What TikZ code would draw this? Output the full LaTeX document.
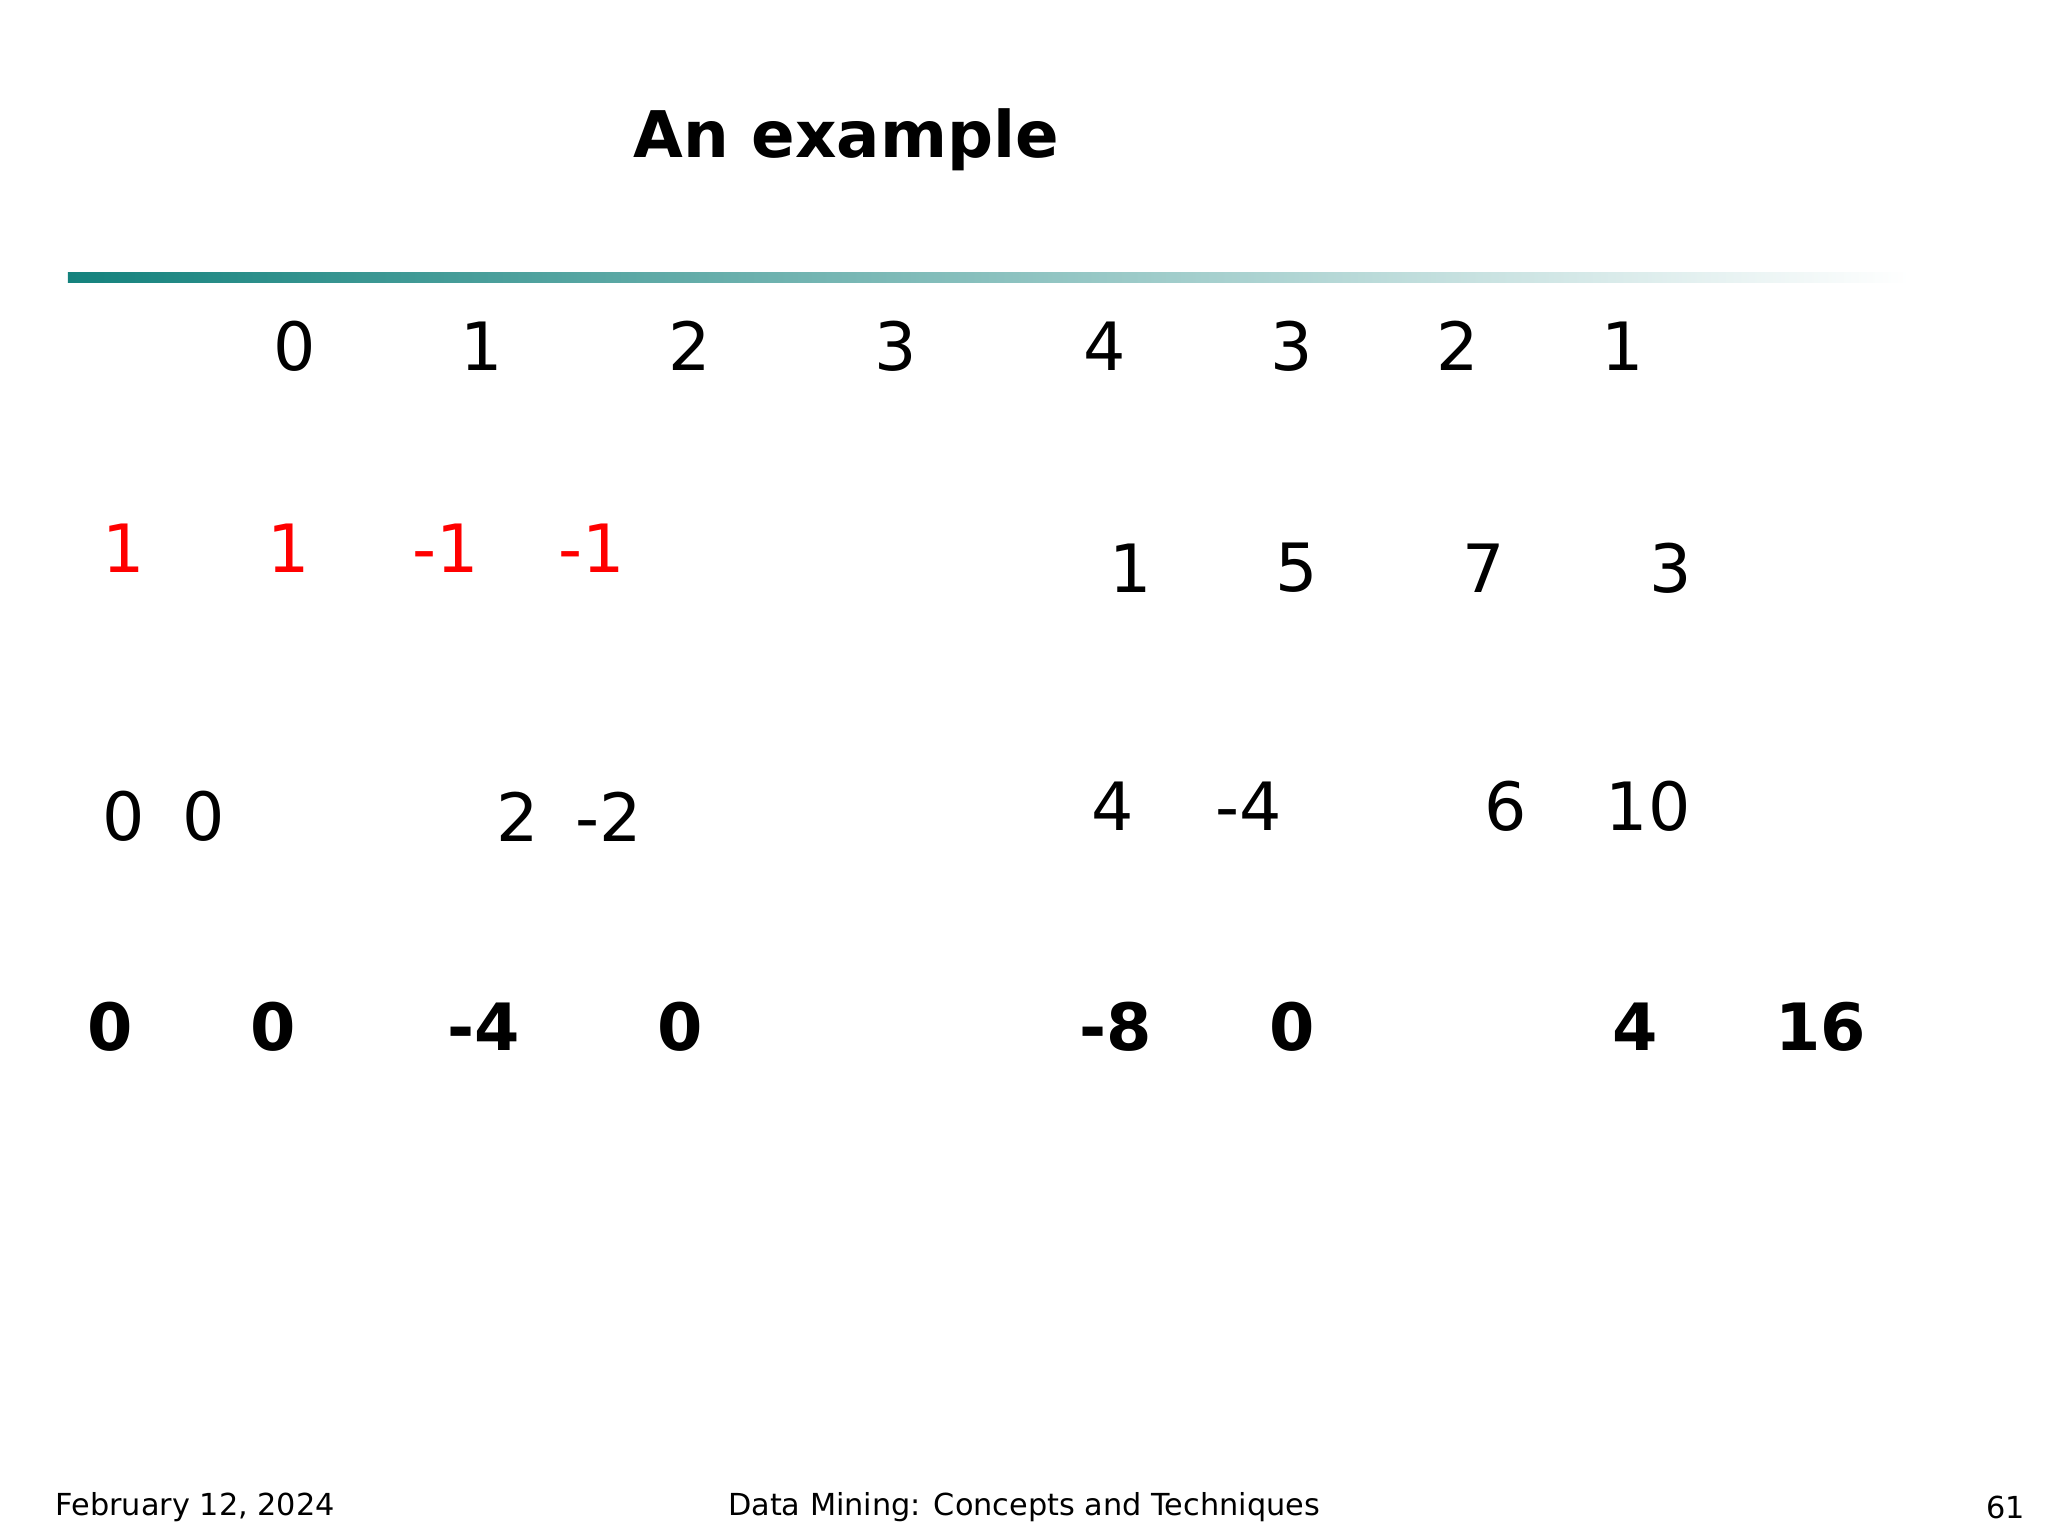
\documentclass[tikz,border=0pt]{standalone}
\usepackage{fontspec}
\setmainfont{DejaVu Sans}
\definecolor{tealc}{RGB}{20,130,125}
\begin{document}
\begin{tikzpicture}[x=0.01cm,y=-0.01cm,
  num/.style={font=\fontsize{14.5}{17}\selectfont,anchor=center},
  red/.style={num,text=red},
  bnum/.style={font=\fontsize{14.2}{17}\selectfont\bfseries,anchor=center},
  foot/.style={font=\fontsize{6.6}{8}\selectfont,inner sep=0pt}]
\useasboundingbox (0,0) rectangle (1568,1176);
\node[font=\fontsize{14}{17}\selectfont\bfseries] (title) at (648,107) {An example};
\shade[left color=tealc,right color=white] (52,209) rectangle (1462,216);
\foreach \v/\x [count=\i] in {0/226,1/369,2/528,3/686,4/846,3/989,2/1116,1/1242}
  \node[num] (a\i) at (\x,265) {\v};
\foreach \v/\x [count=\i] in {1/95,1/221,-1/341,-1/453}
  \node[red] (r\i) at (\x,420) {\v};
\foreach \v/\x [count=\i] in {1/866,5/993,7/1136,3/1279}
  \node[num] (b\i) at (\x,435) {\v};
\foreach \v/\x [count=\i] in {0/95,0/156,2/396,-2/466}
  \node[num] (c\i) at (\x,625) {\v};
\foreach \v/\x [count=\i] in {4/852,-4/956,6/1153,10/1262}
  \node[num] (d\i) at (\x,617) {\v};
\foreach \v/\x [count=\i] in {0/84,0/209,-4/370,0/521,-8/854,0/989,4/1252,16/1394}
  \node[bnum] (e\i) at (\x,786) {\v};
\node[foot,anchor=west] (f1) at (42,1154) {February 12, 2024};
\node[foot] (f2) at (784,1154) {Data Mining: Concepts and Techniques};
\node[foot,anchor=east] (f3) at (1551,1154) {61};
\end{tikzpicture}
\end{document}
